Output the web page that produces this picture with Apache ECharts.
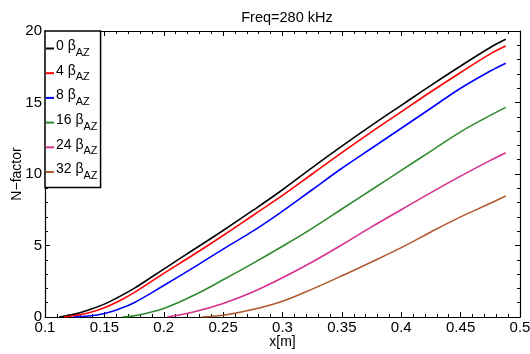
<!DOCTYPE html>
<html>
<head>
<meta charset="utf-8">
<script src="https://cdn.jsdelivr.net/npm/echarts@6/dist/echarts.min.js"></script>
<style>html,body{margin:0;padding:0;background:#fff}#c{width:530px;height:354px}</style>
</head>
<body>
<div id="c"></div>
<script>
var seriesNames = ['0', '4', '8', '16', '24', '32'];
var colors = ['#000000', '#ff0000', '#0000ff', '#2e8b2e', '#d6308c', '#b0582e'];
var xTicks = [0.1, 0.15, 0.2, 0.25, 0.3, 0.35, 0.4, 0.45, 0.5];
var yTicks = [0, 5, 10, 15, 20];

var x0  = [0.112, 0.125, 0.137, 0.15, 0.162, 0.175, 0.2, 0.225, 0.25, 0.275, 0.3, 0.325, 0.35, 0.375, 0.4, 0.425, 0.45, 0.475, 0.488];
var y0  = [0, 0.2, 0.5, 0.9, 1.4, 2.0, 3.35, 4.7, 6.05, 7.45, 8.9, 10.45, 11.95, 13.4, 14.8, 16.2, 17.55, 18.85, 19.42];
var x4  = [0.116, 0.125, 0.137, 0.15, 0.162, 0.175, 0.2, 0.225, 0.25, 0.275, 0.3, 0.325, 0.35, 0.375, 0.4, 0.425, 0.45, 0.475, 0.488];
var y4  = [0, 0.1, 0.3, 0.65, 1.1, 1.7, 3.05, 4.35, 5.7, 7.1, 8.5, 10.0, 11.5, 12.95, 14.35, 15.75, 17.1, 18.4, 18.95];
var x8  = [0.124, 0.137, 0.15, 0.162, 0.175, 0.2, 0.225, 0.25, 0.275, 0.3, 0.325, 0.35, 0.375, 0.4, 0.425, 0.45, 0.475, 0.488];
var y8  = [0, 0.07, 0.25, 0.55, 1.0, 2.2, 3.45, 4.75, 6.0, 7.4, 8.9, 10.4, 11.8, 13.2, 14.6, 16.0, 17.2, 17.75];
var x16 = [0.165, 0.175, 0.2, 0.225, 0.25, 0.275, 0.3, 0.325, 0.35, 0.375, 0.4, 0.425, 0.45, 0.475, 0.488];
var y16 = [0, 0.08, 0.6, 1.5, 2.6, 3.75, 4.95, 6.2, 7.55, 8.9, 10.25, 11.6, 12.95, 14.1, 14.66];
var x24 = [0.203, 0.225, 0.25, 0.275, 0.3, 0.325, 0.35, 0.375, 0.4, 0.425, 0.45, 0.475, 0.488];
var y24 = [0, 0.35, 0.95, 1.75, 2.75, 3.85, 5.05, 6.3, 7.5, 8.7, 9.85, 10.95, 11.49];
var x32 = [0.232, 0.25, 0.275, 0.3, 0.325, 0.35, 0.375, 0.4, 0.425, 0.45, 0.475, 0.488];
var y32 = [0, 0.12, 0.52, 1.1, 1.95, 2.88, 3.85, 4.85, 5.95, 7.0, 7.95, 8.46];

var xs = [x0, x4, x8, x16, x24, x32];
var ys = [y0, y4, y8, y16, y24, y32];

var font = 'Liberation Sans, Arial, Helvetica, sans-serif';

var series = seriesNames.map(function (n, i) {
  return {
    name: n,
    type: 'line',
    smooth: 0.4,
    showSymbol: false,
    symbol: 'none',
    xAxisIndex: 0,
    yAxisIndex: 0,
    color: colors[i],
    lineStyle: { width: 1.6, color: colors[i] },
    data: xs[i].map(function (x, k) { return [x, ys[i][k]]; }),
    animation: false
  };
});

function axisCommon(show) {
  return {
    axisLine: { show: true, onZero: false, lineStyle: { color: '#000', width: 1.2 } },
    axisTick: { show: true, inside: true, length: 5, lineStyle: { color: '#000', width: 1 } },
    minorTick: { show: true, splitNumber: 5, length: 3, lineStyle: { color: '#000', width: 1 } },
    splitLine: { show: false },
    axisLabel: { show: show, color: '#000', fontSize: 15, fontFamily: font }
  };
}

var xb = axisCommon(true);
var xt = axisCommon(false);
var yl = axisCommon(true);
var yr = axisCommon(false);

var option = {
  animation: false,
  title: {
    text: 'Freq=280 kHz',
    left: 282, top: 5, textAlign: 'center',
    textStyle: { fontSize: 14.5, fontWeight: 'normal', color: '#000', fontFamily: font }
  },
  grid: { left: 45, right: 10, top: 31, bottom: 37, containLabel: false, outerBoundsMode: 'none' },
  xAxis: [
    Object.assign({}, xb, {
      type: 'value', position: 'bottom', min: 0.1, max: 0.5, interval: 0.05,
      name: 'x[m]', nameLocation: 'middle', nameGap: 18, nameMoveOverlap: false,
      nameTextStyle: { fontSize: 14, color: '#000', fontFamily: font },
      axisLabel: Object.assign({}, xb.axisLabel, { margin: 3, formatter: function (v) { return String(parseFloat(v.toFixed(2))); } })
    }),
    Object.assign({}, xt, { type: 'value', position: 'top', min: 0.1, max: 0.5, interval: 0.05 })
  ],
  yAxis: [
    Object.assign({}, yl, {
      type: 'value', position: 'left', min: 0, max: 20, interval: 5,
      name: 'N\u2212factor', nameLocation: 'middle', nameGap: 21, nameRotate: 90, nameMoveOverlap: false,
      nameTextStyle: { fontSize: 14, color: '#000', fontFamily: font },
      axisLabel: Object.assign({}, yl.axisLabel, { margin: 3 })
    }),
    Object.assign({}, yr, { type: 'value', position: 'right', min: 0, max: 20, interval: 5 })
  ],
  legend: {
    orient: 'vertical',
    left: 45, top: 31,
    padding: [7, 3, 6, 1],
    itemGap: 4.7,
    itemWidth: 8, itemHeight: 2,
    icon: 'rect',
    borderColor: '#000', borderWidth: 1.5,
    backgroundColor: '#fff',
    data: seriesNames,
    formatter: function (name) { return '{n|' + name + ' \u03b2}{s|AZ}'; },
    textStyle: {
      color: '#000', fontFamily: font, padding: [0, 0, 0, -3],
      rich: {
        n: { fontSize: 14, fontFamily: font, color: '#000', lineHeight: 19, verticalAlign: 'top' },
        s: { fontSize: 11, fontFamily: font, color: '#000', lineHeight: 19, verticalAlign: 'bottom', padding: [9, 0, 0, 0] }
      }
    }
  },
  series: series
};

var chart = echarts.init(document.getElementById('c'), null, { renderer: 'canvas' });
chart.setOption(option);
</script>
</body>
</html>
